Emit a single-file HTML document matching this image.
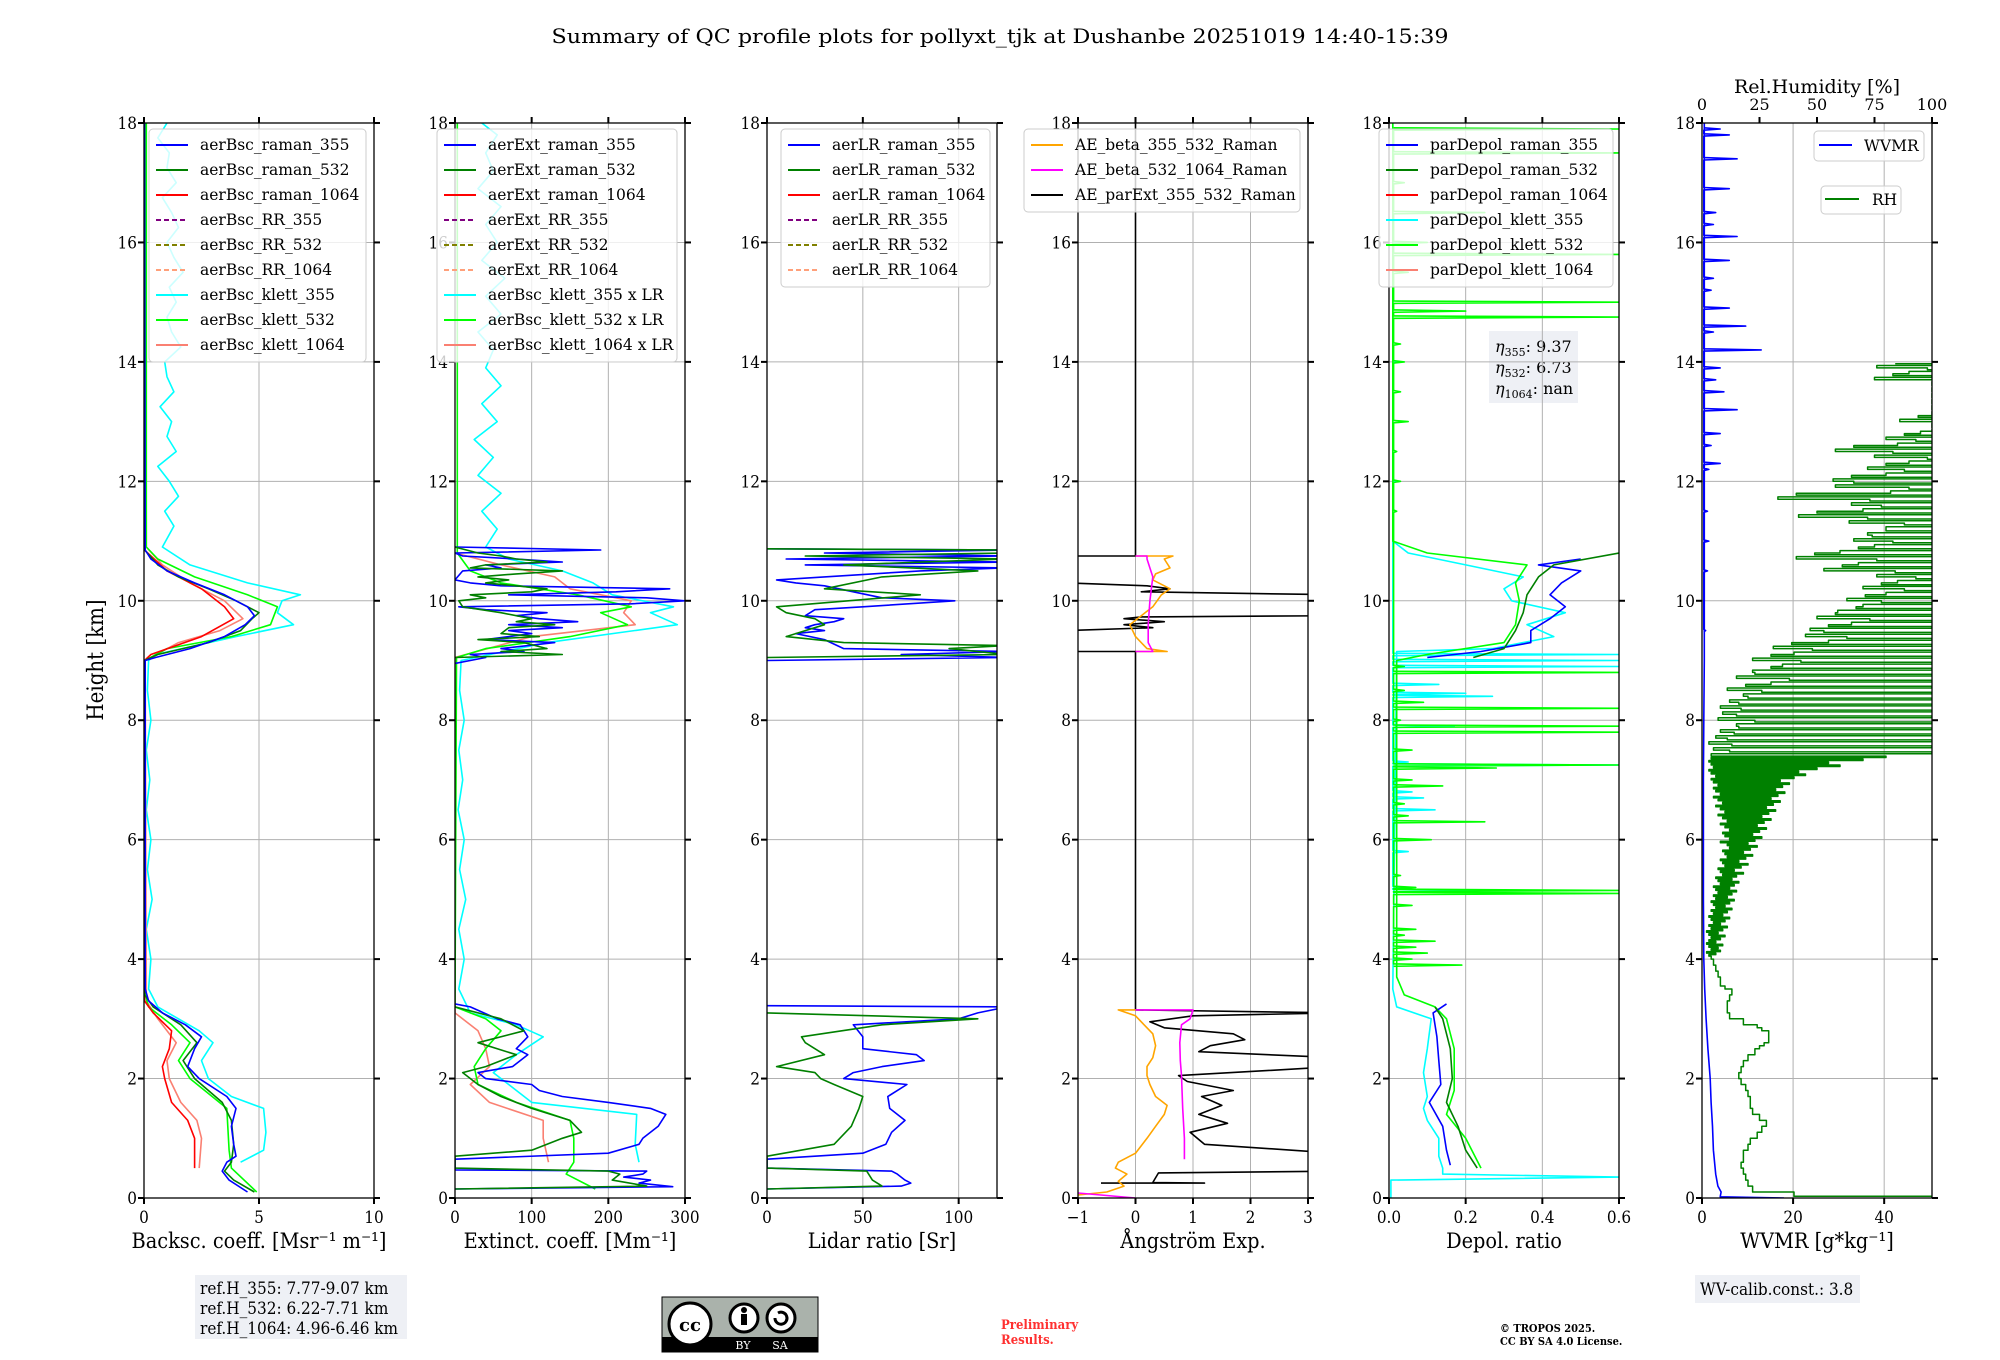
<!DOCTYPE html>
<html><head><meta charset="utf-8"><title>QC profiles</title>
<style>
html,body{margin:0;padding:0;background:#fff;}
svg{display:block;}
text{font-family:"DejaVu Serif","Liberation Serif",serif;}
.cond{font-family:"DejaVu Serif Condensed","DejaVu Serif","Liberation Serif",serif;font-stretch:condensed;}
</style></head>
<body>
<svg id="fig" width="2000" height="1360" viewBox="0 0 2000 1360" xmlns="http://www.w3.org/2000/svg">
<text x="1000" y="43" text-anchor="middle" font-size="20" textLength="897" lengthAdjust="spacingAndGlyphs">Summary of QC profile plots for pollyxt_tjk at Dushanbe 20251019 14:40-15:39</text>
<text class="cond" x="0" y="0" transform="translate(103,660) rotate(-90)" text-anchor="middle" font-size="22">Height [km]</text>

<g>
<rect x="195" y="1275" width="212" height="64" fill="#eef0f5"/>
<text class="cond" x="200" y="1294" font-size="17">ref.H_355: 7.77-9.07 km</text>
<text class="cond" x="200" y="1314" font-size="17">ref.H_532: 6.22-7.71 km</text>
<text class="cond" x="200" y="1334" font-size="17">ref.H_1064: 4.96-6.46 km</text>
</g>
<g>
<rect x="1489" y="331" width="89" height="72" fill="#eef0f5"/>
<text x="1495" y="352" font-size="16"><tspan font-style="italic">η</tspan><tspan font-size="11" dy="4">355</tspan><tspan dy="-4">: 9.37</tspan></text>
<text x="1495" y="373" font-size="16"><tspan font-style="italic">η</tspan><tspan font-size="11" dy="4">532</tspan><tspan dy="-4">: 6.73</tspan></text>
<text x="1495" y="394" font-size="16"><tspan font-style="italic">η</tspan><tspan font-size="11" dy="4">1064</tspan><tspan dy="-4">: nan</tspan></text>
</g>
<g>
<rect x="1695" y="1275" width="165" height="28" fill="#eef0f5"/>
<text class="cond" x="1700" y="1295" font-size="17">WV-calib.const.: 3.8</text>
</g>
<g>
<rect x="662" y="1297" width="156" height="55" fill="#aab2ab" stroke="#000" stroke-width="1"/>
<rect x="662" y="1337" width="156" height="15" fill="#000"/>
<circle cx="690" cy="1324" r="21" fill="#fff" stroke="#000" stroke-width="3"/>
<text x="690" y="1331" text-anchor="middle" font-size="18" font-weight="bold" font-family="Liberation Sans, sans-serif">cc</text>
<circle cx="744" cy="1318" r="14" fill="#fff" stroke="#000" stroke-width="3"/>
<circle cx="744" cy="1310" r="3" fill="#000"/>
<rect x="741" y="1314" width="6" height="11" fill="#000"/>
<circle cx="781" cy="1318" r="14" fill="#fff" stroke="#000" stroke-width="3"/>
<path d="M775 1318 a6 6 0 1 0 3 -5" fill="none" stroke="#000" stroke-width="3"/>
<text x="743" y="1349" text-anchor="middle" font-size="11" fill="#fff" font-family="Liberation Sans, sans-serif">BY</text>
<text x="780" y="1349" text-anchor="middle" font-size="11" fill="#fff" font-family="Liberation Sans, sans-serif">SA</text>
</g>
<g>
<text class="cond" x="1001" y="1329" font-size="13" font-weight="bold" fill="#ff3030">Preliminary</text>
<text class="cond" x="1001" y="1344" font-size="13" font-weight="bold" fill="#ff3030">Results.</text>
</g>
<g>
<text class="cond" x="1500" y="1332" font-size="11" font-weight="bold">© TROPOS 2025.</text>
<text class="cond" x="1500" y="1345" font-size="11" font-weight="bold">CC BY SA 4.0 License.</text>
</g>
</svg>

<script>
// ---------------- data ----------------
const yTicks=[0,2,4,6,8,10,12,14,16,18];
const p1Ticks=[0,5,10], p2Ticks=[0,100,200,300], p3Ticks=[0,50,100], p4Ticks=[-1,0,1,2,3], p5Ticks=[0,0.2,0.4,0.6], p6Ticks=[0,20,40], rhTicks=[0,25,50,75,100];
const p5TickLabels=['0.0','0.2','0.4','0.6'];

const bscRaman355=[[0.1,4.5],[0.3,3.7],[0.45,3.4],[0.6,3.6],[0.7,4.0],[0.9,3.9],[1.2,3.8],[1.5,4.0],[1.7,3.6],[2.0,2.4],[2.2,1.9],[2.5,2.2],[2.7,2.5],[2.9,1.8],[3.1,0.8],[3.3,0.2],[3.5,0.05],[9.0,0.05],[9.05,0.5],[9.2,2],[9.4,3.5],[9.6,4.4],[9.75,4.8],[9.9,4.5],[10.1,3.5],[10.3,2.2],[10.5,1.0],[10.7,0.3],[10.85,0.05],[18,0.02]];
const bscRaman532=[[0.1,4.8],[0.3,3.9],[0.45,3.5],[0.6,3.8],[0.9,3.9],[1.3,3.8],[1.6,3.4],[2.0,2.2],[2.3,1.7],[2.6,2.3],[2.9,1.6],[3.2,0.4],[3.4,0.03],[9.0,0.03],[9.1,0.6],[9.3,2.8],[9.5,4.2],[9.7,4.7],[9.8,5.0],[10.0,4.0],[10.2,2.8],[10.4,1.5],[10.6,0.6],[10.85,0.03],[18,0.02]];
const bscRaman1064=[[0.5,2.2],[0.7,2.2],[1.0,2.2],[1.3,1.9],[1.6,1.2],[2.0,0.9],[2.2,0.8],[2.5,1.1],[2.8,1.2],[3.1,0.4],[3.3,0.02],[9.0,0.02],[9.1,0.3],[9.4,2.5],[9.7,3.9],[9.9,3.5],[10.2,2.5],[10.5,1.0],[10.85,0.02]];
const bscKlett355=[[0.6,4.2],[0.8,5.2],[1.1,5.3],[1.5,5.2],[1.7,3.8],[2.0,2.8],[2.3,2.5],[2.6,3.0],[2.8,2.4],[3.2,0.6],[3.5,0.2],[4.0,0.3],[4.5,0.1],[5.0,0.35],[5.5,0.15],[6.0,0.3],[6.5,0.1],[7.0,0.25],[7.5,0.1],[8.0,0.3],[8.5,0.15],[9.0,0.2],[9.1,0.5],[9.4,4],[9.6,6.5],[9.8,5.8],[10.0,6.0],[10.1,6.8],[10.3,4.5],[10.6,2.0],[10.9,0.8],[11.25,1.3],[11.5,0.9],[11.75,1.5],[12.0,1.1],[12.25,0.6],[12.5,1.4],[12.75,1.0],[13.0,1.2],[13.25,0.7],[13.5,1.3],[13.75,1.0],[14.0,0.9],[14.25,1.6],[14.5,1.2],[14.75,1.0],[15.0,1.4],[15.25,1.1],[15.5,1.7],[15.75,1.3],[16.0,1.0],[16.25,1.5],[16.5,1.2],[16.75,0.8],[17.0,1.4],[17.25,1.0],[17.5,1.1],[17.75,0.6],[18.0,1.0]];
const bscKlett532=[[0.1,4.9],[0.5,3.8],[0.8,3.7],[1.5,3.6],[2.0,2.0],[2.3,1.5],[2.6,2.0],[2.9,1.2],[3.2,0.2],[3.4,0.05],[9.0,0.05],[9.2,1.0],[9.4,3.8],[9.6,5.5],[9.9,5.8],[10.1,4.5],[10.4,2.2],[10.7,0.6],[10.9,0.1],[18,0.1]];
const bscKlett1064=[[0.5,2.4],[1.0,2.5],[1.3,2.3],[1.6,1.6],[2.0,1.1],[2.3,1.0],[2.6,1.4],[3.0,0.6],[3.3,0.1],[9.0,0.05],[9.3,1.5],[9.5,3.3],[9.7,4.3],[10.0,3.5],[10.3,2.0],[10.6,0.8],[10.9,0.1],[18,0.05]];

const extRaman355=[[0.15,0],[0.19,284],[0.25,240],[0.3,255],[0.35,220],[0.4,245],[0.45,250],[0.47,0],[0.65,0],[0.75,200],[0.9,240],[1.0,245],[1.2,265],[1.4,275],[1.5,255],[1.6,200],[1.7,140],[1.8,110],[1.9,100],[2.0,40],[2.1,30],[2.2,75],[2.4,95],[2.5,80],[2.7,95],[2.9,85],[3.0,55],[3.2,20],[3.25,0],null,[8.95,0],[9.05,40],[9.1,20],[9.15,90],[9.2,60],[9.3,130],[9.35,40],[9.45,100],[9.5,70],[9.55,140],[9.6,70],[9.65,160],[9.7,110],[9.75,80],[9.8,120],[9.85,40],[9.9,5],[9.95,230],[10.0,300],[10.05,250],[10.1,70],[10.15,210],[10.2,280],[10.25,60],[10.3,20],[10.35,0],[10.5,10],[10.55,60],[10.6,40],[10.65,140],[10.7,80],[10.75,10],[10.8,0],[10.85,190],[10.9,0]];
const extRaman532=[[0.15,0],[0.2,250],[0.3,205],[0.4,215],[0.45,200],[0.5,0],[0.7,0],[0.8,100],[1.0,140],[1.1,165],[1.3,150],[1.5,100],[1.7,60],[1.9,30],[2.1,10],[2.2,40],[2.4,80],[2.6,30],[2.8,90],[3.0,60],[3.2,0],null,[9.05,0],[9.1,140],[9.15,60],[9.2,120],[9.3,90],[9.35,30],[9.4,110],[9.45,60],[9.55,70],[9.6,130],[9.65,80],[9.7,100],[9.8,60],[9.9,10],[10.0,5],[10.05,40],[10.1,20],[10.15,100],[10.2,120],[10.3,40],[10.35,70],[10.4,30],[10.45,80],[10.5,140],[10.55,20],[10.6,40],[10.65,120],[10.7,80],[10.75,60],[10.8,30],[10.9,0]];
const extKlett355=[[0.6,240],[0.9,235],[1.4,237],[1.6,100],[1.9,70],[2.1,50],[2.4,80],[2.7,115],[2.9,80],[3.1,20],[3.5,5],[4.0,12],[4.5,5],[5.0,14],[5.5,6],[6.0,12],[6.5,4],[7.0,10],[7.5,5],[8.0,12],[8.5,6],[9.0,8],[9.3,120],[9.6,290],[9.8,255],[9.9,285],[10.1,205],[10.3,180],[10.5,140],[10.7,70],[10.9,40],[11.2,55],[11.5,35],[11.8,60],[12.1,30],[12.4,50],[12.7,25],[13.0,55],[13.3,35],[13.6,60],[13.9,40],[14.2,50],[14.5,30],[14.8,60],[15.1,40],[15.4,65],[15.7,35],[16.0,55],[16.3,40],[16.6,60],[16.9,30],[17.2,50],[17.5,40],[17.8,55],[18,35]];
const extKlett532=[[0.15,183],[0.4,145],[0.6,155],[1.0,155],[1.3,150],[1.6,80],[1.9,30],[2.2,25],[2.5,40],[2.8,60],[3.0,40],[3.2,0],[9.05,2],[9.2,40],[9.4,150],[9.6,225],[9.8,190],[9.9,230],[10.1,160],[10.3,60],[10.5,20],[10.8,3],[18,3]];
const extKlett1064=[[0.6,122],[1.0,115],[1.3,115],[1.6,45],[1.9,20],[2.2,45],[2.5,40],[2.8,30],[3.1,0],[9.05,0],[9.4,100],[9.6,235],[9.8,220],[10.0,230],[10.2,150],[10.4,130],[10.6,60],[10.8,0]];

const lrRaman355=[[0.15,0],[0.2,70],[0.25,75],[0.3,72],[0.4,68],[0.45,65],[0.5,0],[0.65,0],[0.75,50],[0.9,62],[1.1,65],[1.3,72],[1.5,64],[1.7,63],[1.9,73],[2.0,40],[2.1,45],[2.2,60],[2.3,82],[2.4,78],[2.5,50],[2.7,50],[2.9,45],[3.0,100],[3.1,110],[3.2,125],[3.22,0],null,[9.0,0],[9.05,125],[9.1,70],[9.15,125],[9.2,40],[9.35,30],[9.45,15],[9.5,30],[9.55,20],[9.6,25],[9.65,35],[9.7,40],[9.75,20],[9.85,25],[9.9,50],[10.0,98],[10.05,60],[10.15,45],[10.25,30],[10.3,15],[10.35,5],[10.5,80],[10.55,125],[10.6,20],[10.65,125],[10.7,10],[10.75,125],[10.8,30],[10.85,125],[10.87,0]];
const lrRaman532=[[0.15,0],[0.2,60],[0.3,55],[0.45,52],[0.5,0],[0.7,0],[0.9,35],[1.2,44],[1.5,48],[1.7,50],[1.9,35],[2.0,28],[2.1,25],[2.2,5],[2.4,30],[2.6,20],[2.7,18],[2.9,60],[3.0,110],[3.1,0],null,[9.05,0],[9.1,125],[9.2,95],[9.25,125],[9.3,40],[9.4,10],[9.5,20],[9.6,30],[9.7,25],[9.8,10],[9.9,5],[10.1,80],[10.2,30],[10.4,60],[10.5,110],[10.6,40],[10.7,125],[10.75,20],[10.8,125],[10.85,125],[10.87,0]];

const aeParExt=[[0.25,-0.6],[0.25,1.2],[0.26,0.3],[0.42,0.4],[0.45,3.5],[0.75,3.5],[0.9,1.2],[1.1,0.95],[1.25,1.6],[1.4,1.1],[1.55,1.5],[1.7,1.15],[1.8,1.7],[1.95,0.9],[2.05,0.75],[2.2,3.5],[2.35,3.5],[2.45,1.1],[2.55,1.3],[2.65,1.9],[2.75,1.7],[2.85,0.5],[2.95,0.25],[3.05,1.0],[3.1,3.5],[3.15,0],[9.15,0],[9.15,-1.2],[9.5,-1.2],[9.55,0.3],[9.6,-0.2],[9.65,0.5],[9.7,-0.2],[9.73,0.1],[9.75,3.5],[10.1,3.5],[10.15,0.1],[10.2,0.6],[10.25,0.2],[10.3,-1.2],[10.75,-1.2],[10.75,0],[18,0]];
const aeBeta355532=[[0.05,-1],[0.1,-0.5],[0.2,-0.2],[0.28,-0.3],[0.4,-0.15],[0.5,-0.35],[0.6,-0.3],[0.75,0],[1.0,0.2],[1.2,0.35],[1.4,0.5],[1.55,0.55],[1.7,0.35],[1.9,0.25],[2.05,0.2],[2.2,0.2],[2.35,0.3],[2.55,0.35],[2.75,0.3],[2.9,0.15],[3.05,0],[3.15,-0.3],[3.15,0],null,[9.15,0],[9.15,0.55],[9.2,0.2],[9.4,0],[9.6,-0.1],[9.75,0.1],[9.9,0.3],[10.1,0.45],[10.2,0.6],[10.25,0.5],[10.35,0.3],[10.45,0.35],[10.55,0.6],[10.7,0.5],[10.75,0.65],[10.75,0]];
const aeBeta5321064=[[0,0],[0.1,-1.2],null,[0.65,0.85],[1.0,0.85],[1.5,0.82],[2.05,0.8],[2.3,0.78],[2.6,0.77],[2.9,0.8],[3.0,0.95],[3.15,1.0],[3.15,0],null,[9.15,0],[9.15,0.3],[9.3,0.22],[9.6,0.22],[10.0,0.25],[10.4,0.3],[10.7,0.2],[10.75,0.2],[10.75,0]];

const depRaman355=[[0.55,0.16],[0.8,0.15],[1.2,0.14],[1.6,0.105],[1.9,0.135],[2.3,0.13],[2.7,0.125],[3.1,0.115],[3.25,0.15],null,[9.05,0.1],[9.15,0.24],[9.3,0.37],[9.5,0.37],[9.7,0.42],[9.9,0.46],[10.1,0.42],[10.3,0.45],[10.5,0.5],[10.6,0.39],[10.7,0.5]];
const depRaman532=[[0.5,0.23],[0.8,0.2],[1.2,0.18],[1.6,0.15],[2.0,0.165],[2.5,0.16],[3.0,0.14],[3.2,0.12],null,[9.05,0.22],[9.2,0.3],[9.5,0.33],[9.8,0.35],[10.1,0.36],[10.4,0.39],[10.6,0.43],[10.8,0.6]];
const depKlett355=[[0.0,0.005],[0.3,0.005],[0.35,0.6],[0.4,0.14],[0.5,0.14],[0.7,0.13],[1.0,0.13],[1.3,0.1],[1.5,0.09],[1.7,0.1],[2.1,0.09],[2.5,0.1],[3.0,0.11],[3.2,0.02],[3.5,0.01],[9.15,0.02],[9.2,0.27],[9.4,0.43],[9.6,0.36],[9.8,0.46],[10.0,0.32],[10.2,0.3],[10.4,0.35],[10.6,0.2],[10.8,0.05],[11.0,0.01],[18,0.01]];
const depKlett532=[[0.5,0.24],[1.0,0.2],[1.4,0.15],[1.8,0.17],[2.5,0.17],[3.0,0.15],[3.2,0.12],[3.4,0.04],[3.7,0.02],[9.0,0.02],[9.1,0.1],[9.3,0.3],[9.6,0.33],[10.0,0.34],[10.3,0.33],[10.6,0.36],[10.8,0.1],[11.0,0.01],[18,0.01]];
const depKlett355Spikes=[[5.15,0.3],[5.2,0.05],[5.8,0.05],[6.5,0.12],[6.7,0.09],[6.8,0.06],[7.25,0.6],[7.3,0.05],[7.9,0.17],[8.4,0.27],[8.45,0.2],[8.6,0.13],[8.9,0.6],[9.0,0.6],[9.1,0.6],[12,0.02],[14,0.03],[16,0.02]];
const depKlett532Spikes=[[3.9,0.19],[4.0,0.06],[4.1,0.1],[4.2,0.07],[4.3,0.12],[4.4,0.04],[4.5,0.07],[4.9,0.06],[5.1,0.6],[5.15,0.6],[5.2,0.07],[5.4,0.03],[6.0,0.11],[6.3,0.25],[6.4,0.05],[6.6,0.04],[6.9,0.14],[7.0,0.06],[7.2,0.28],[7.25,0.6],[7.5,0.06],[7.8,0.6],[7.9,0.6],[8.0,0.03],[8.2,0.6],[8.3,0.09],[8.5,0.04],[8.8,0.6],[8.9,0.04],[11.5,0.02],[12.0,0.03],[12.5,0.02],[13.0,0.05],[13.5,0.03],[14.0,0.04],[14.3,0.03],[14.75,0.6],[14.85,0.2],[15.0,0.6],[15.5,0.05],[15.8,0.6],[16.0,0.1],[16.5,0.25],[17.0,0.04],[17.5,0.6],[17.9,0.6]];

const wvmrProfile=[[0,18],[0.02,4],[0.1,4.2],[0.2,3.5],[0.4,3],[0.8,2.5],[1.2,2.3],[1.6,2],[2.0,1.8],[2.5,1.3],[3.0,0.9],[3.5,0.6],[4.0,0.4],[5,0.3],[6,0.3],[7,0.3],[8,0.4],[9,0.5],[18,0.5]];
const wvmrSpikes=[[9.5,0.8],[10.5,1.2],[11,1.5],[11.5,1.2],[12.2,1.5],[12.3,4],[12.6,2],[12.8,4],[13.2,7.7],[13.5,4.8],[13.7,3],[13.9,4],[14.2,13],[14.5,2.5],[14.6,9.6],[14.9,6],[15.2,2],[15.4,2.5],[15.7,6],[16.1,7.7],[16.3,2.5],[16.5,3],[16.9,6],[17.4,7.7],[17.8,6],[17.9,4]];
const rhLower=[[0,100],[0.03,40],[0.1,22],[0.2,20],[0.3,19],[0.4,18],[0.5,17],[0.6,18],[0.7,18],[0.8,20],[0.9,21],[1.0,24],[1.1,26],[1.2,28],[1.25,28],[1.3,25],[1.4,22],[1.5,21],[1.6,21],[1.7,20],[1.8,19],[1.9,17],[2.0,16],[2.1,17],[2.2,18],[2.3,20],[2.4,23],[2.5,25],[2.55,27],[2.6,29],[2.7,29],[2.8,26],[2.85,24],[2.9,18],[3.0,12],[3.1,11],[3.2,11],[3.3,12],[3.4,13],[3.5,10],[3.55,8],[3.6,8],[3.7,7],[3.8,6],[3.9,5],[4.0,4]];
const rhBandH=[4.05,4.1,4.15,4.2,4.25,4.3,4.35,4.4,4.45,4.5,4.55,4.6,4.65,4.7,4.75,4.8,4.85,4.9,4.95,5.0,5.05,5.1,5.15,5.2,5.25,5.3,5.35,5.4,5.45,5.5,5.55,5.6,5.65,5.7,5.75,5.8,5.85,5.9,5.95,6.0,6.05,6.1,6.15,6.2,6.25,6.3,6.35,6.4,6.45,6.5,6.55,6.6,6.65,6.7,6.75,6.8,6.85,6.9,6.95,7.0,7.05,7.1,7.15,7.2,7.25,7.3,7.35];
const rhBandLow=[3,2,4,3,2,3,4,3,2,4,3,5,4,3,5,4,6,5,4,6,5,7,6,5,8,7,6,9,8,7,10,9,8,11,10,9,12,11,8,12,10,9,12,10,8,11,9,7,10,8,6,9,7,5,8,6,5,7,5,4,6,4,3,5,4,3,4];
const rhBandHigh=[6,8,7,9,6,8,10,7,9,11,8,10,12,9,11,13,10,12,14,11,13,15,12,14,16,13,15,18,14,17,20,16,19,22,18,21,24,20,23,26,22,25,28,24,27,30,26,29,32,28,31,34,30,33,36,32,35,38,34,40,45,42,50,60,55,70,80];
const rhCloudH=[7.4,7.5,7.6,7.7,7.8,7.9,8.0,8.1,8.2,8.3,8.4,8.5,8.6,8.7,8.8,8.9,9.0,9.1,9.2,9.3,9.4,9.5,9.6,9.7,9.8,9.9,10.0,10.1,10.2,10.3,10.4,10.5,10.6,10.7,10.8,10.9,11.0,11.1,11.2,11.3,11.4,11.5,11.6,11.7,11.8,11.9,12.0,12.1,12.2,12.3,12.4,12.5,12.6,12.7,12.8,12.9,13.0,13.1,13.2,13.3,13.4,13.5,13.6,13.7,13.8,13.9];
const rhCloudLow=[4,5,3,6,8,15,7,9,8,12,18,11,30,15,22,35,22,40,31,55,45,47,65,50,59,70,63,80,70,85,76,53,68,41,60,75,66,72,80,64,42,70,65,33,82,58,57,80,72,90,75,58,85,80,95,100,86,100,100,100,100,100,100,75,90,76];
const rhCloudHigh=100;

// ---------------- layout ----------------
const NS='http://www.w3.org/2000/svg';
const svg=document.getElementById('fig');
const TOP=123,BOT=1198,W=230,YMAX=18;
const panels=[
 {x0:144,min:0,max:10,ticks:p1Ticks,label:'Backsc. coeff. [Msr⁻¹ m⁻¹]',name:'backscatter'},
 {x0:455,min:0,max:300,ticks:p2Ticks,label:'Extinct. coeff. [Mm⁻¹]',name:'extinction'},
 {x0:767,min:0,max:120,ticks:p3Ticks,label:'Lidar ratio [Sr]',name:'lidar-ratio'},
 {x0:1078,min:-1,max:3,ticks:p4Ticks,label:'Ångström Exp.',name:'angstrom'},
 {x0:1389,min:0,max:0.6,ticks:p5Ticks,labels:p5TickLabels,label:'Depol. ratio',name:'depol'},
 {x0:1702,min:0,max:50.5,ticks:p6Ticks,label:'WVMR [g*kg⁻¹]',name:'wvmr'}
];
function yS(h){return BOT-(h/YMAX)*(BOT-TOP);}
function xS(p,v){return p.x0+(v-p.min)/(p.max-p.min)*W;}

function mk(tag,attrs,parent,name,inter){
  const el=document.createElementNS(NS,tag);
  for(const k in attrs)el.setAttribute(k,attrs[k]);
  
  
  (parent||svg).appendChild(el);
  return el;
}
const defs=mk('defs',{},svg,'defs',false);

function drawSeries(p,g,data,color,name,opts){
  opts=opts||{};
  let segs=[],cur=[],prev=null;
  data.forEach(d=>{
    if(d===null){if(cur.length)segs.push(cur);cur=[];prev=null;return;}
    if(opts.step&&prev) cur.push(xS(p,prev[1]).toFixed(1)+','+yS(d[0]).toFixed(1));
    cur.push(xS(p,d[1]).toFixed(1)+','+yS(d[0]).toFixed(1));
    prev=d;
  });
  if(cur.length)segs.push(cur);
  segs.forEach(s=>{
    const a={points:s.join(' '),fill:'none',stroke:color,'stroke-width':opts.w||1.6,'stroke-linejoin':'round'};
    if(opts.dash)a['stroke-dasharray']=opts.dash;
    mk('polyline',a,g,name,false);
  });
}
function spikeSeries(base,spikes){
  const out=[];
  spikes.forEach(s=>{out.push([s[0]-0.02,base]);out.push([s[0],s[1]]);out.push([s[0]+0.02,base]);});
  return out;
}

panels.forEach((p,i)=>{
  const g=mk('g',{},svg,'panel-'+p.name,false);
  const clip=mk('clipPath',{id:'clip'+i},defs,'clip-'+p.name,false);
  mk('rect',{x:p.x0,y:TOP,width:W,height:BOT-TOP},clip,'clip-rect',false);
  p.ticks.forEach(t=>mk('line',{x1:xS(p,t),x2:xS(p,t),y1:TOP,y2:BOT,stroke:'#b0b0b0','stroke-width':1},g,'x-gridline',false));
  yTicks.forEach(t=>mk('line',{x1:p.x0,x2:p.x0+W,y1:yS(t),y2:yS(t),stroke:'#b0b0b0','stroke-width':1},g,'y-gridline',false));
  const dg=mk('g',{'clip-path':'url(#clip'+i+')'},g,p.name+'-series',false);
  p.dg=dg;p.g=g;
});

const P=panels;
drawSeries(P[0],P[0].dg,bscKlett355,'#00ffff','bsc-klett-355');
drawSeries(P[0],P[0].dg,bscKlett1064,'#fa8072','bsc-klett-1064');
drawSeries(P[0],P[0].dg,bscKlett532,'#00ff00','bsc-klett-532');
drawSeries(P[0],P[0].dg,bscRaman1064,'#ff0000','bsc-raman-1064');
drawSeries(P[0],P[0].dg,bscRaman532,'#008000','bsc-raman-532');
drawSeries(P[0],P[0].dg,bscRaman355,'#0000ff','bsc-raman-355');

drawSeries(P[1],P[1].dg,extKlett355,'#00ffff','ext-klett-355');
drawSeries(P[1],P[1].dg,extKlett1064,'#fa8072','ext-klett-1064');
drawSeries(P[1],P[1].dg,extKlett532,'#00ff00','ext-klett-532');
drawSeries(P[1],P[1].dg,extRaman355,'#0000ff','ext-raman-355');
drawSeries(P[1],P[1].dg,extRaman532,'#008000','ext-raman-532');

drawSeries(P[2],P[2].dg,lrRaman355,'#0000ff','lr-raman-355');
drawSeries(P[2],P[2].dg,lrRaman532,'#008000','lr-raman-532');

drawSeries(P[3],P[3].dg,aeParExt,'#000000','ae-parext-355-532');
drawSeries(P[3],P[3].dg,aeBeta355532,'#ffa500','ae-beta-355-532');
drawSeries(P[3],P[3].dg,aeBeta5321064,'#ff00ff','ae-beta-532-1064');

drawSeries(P[4],P[4].dg,spikeSeries(0.01,depKlett355Spikes),'#00ffff','depol-klett-355-spikes');
drawSeries(P[4],P[4].dg,depKlett355,'#00ffff','depol-klett-355');
drawSeries(P[4],P[4].dg,spikeSeries(0.012,depKlett532Spikes),'#00ff00','depol-klett-532-spikes');
drawSeries(P[4],P[4].dg,depKlett532,'#00ff00','depol-klett-532');
drawSeries(P[4],P[4].dg,depRaman355,'#0000ff','depol-raman-355');
drawSeries(P[4],P[4].dg,depRaman532,'#008000','depol-raman-532');

const rhP={x0:1702,min:0,max:100};
const rhAll=rhLower.slice();
rhBandH.forEach((h,k)=>{rhAll.push([h,rhBandLow[k]]);rhAll.push([h+0.025,rhBandHigh[k]]);});
rhCloudH.forEach((h,k)=>{rhAll.push([h,rhCloudLow[k]]);rhAll.push([h+0.04,rhCloudHigh]);rhAll.push([h+0.07,rhCloudLow[k]+8]);});
drawSeries(P[5],P[5].dg,wvmrProfile,'#0000ff','wvmr-profile');
drawSeries(P[5],P[5].dg,spikeSeries(0.4,wvmrSpikes),'#0000ff','wvmr-spikes');
drawSeries(rhP,P[5].dg,rhAll,'#008000','rh-profile',{step:true,w:1.5});

panels.forEach((p,i)=>{
  const g=p.g;
  mk('rect',{x:p.x0,y:TOP,width:W,height:BOT-TOP,fill:'none',stroke:'#000','stroke-width':1.3},g,p.name+'-frame',false);
  yTicks.forEach(t=>{
    const y=yS(t);
    mk('line',{x1:p.x0-6,x2:p.x0,y1:y,y2:y,stroke:'#000','stroke-width':2},g,'y-tick',false);
    mk('line',{x1:p.x0+W,x2:p.x0+W+6,y1:y,y2:y,stroke:'#000','stroke-width':2},g,'y-tick-right',false);
    const tl=mk('text',{x:p.x0-7,y:y+6,'text-anchor':'end','font-size':17,class:'cond'},g,'y-tick-label',false);
    tl.textContent=String(t);
  });
  p.ticks.forEach((t,k)=>{
    const x=xS(p,t);
    mk('line',{x1:x,x2:x,y1:BOT,y2:BOT+6,stroke:'#000','stroke-width':2},g,'x-tick',false);
    if(i<5) mk('line',{x1:x,x2:x,y1:TOP-6,y2:TOP,stroke:'#000','stroke-width':2},g,'x-tick-top',false);
    const tl=mk('text',{x:x,y:BOT+25,'text-anchor':'middle','font-size':17,class:'cond'},g,'x-tick-label',false);
    tl.textContent=p.labels?p.labels[k]:(t<0?'−'+(-t):String(t));
  });
  const xl=mk('text',{x:p.x0+W/2,y:1248,'text-anchor':'middle','font-size':21.5,class:'cond'},g,p.name+'-x-axis-title',false);
  xl.textContent=p.label;
});
{
  const g=P[5].g;
  rhTicks.forEach(t=>{
    const x=1702+t/100*W;
    mk('line',{x1:x,x2:x,y1:TOP-6,y2:TOP,stroke:'#000','stroke-width':2},g,'rh-tick',false);
    const tl=mk('text',{x:x,y:110,'text-anchor':'middle','font-size':16},g,'rh-tick-label',false);
    tl.textContent=String(t);
  });
  const t=mk('text',{x:1817,y:93,'text-anchor':'middle','font-size':19},g,'rh-axis-title',false);
  t.textContent='Rel.Humidity [%]';
}

function legend(p,bx,by,bw,rows,name){
  const g=mk('g',{},svg,name,true);
  mk('rect',{x:bx,y:by,width:bw,height:rows.length*25+8,rx:4,fill:'#fff','fill-opacity':0.8,stroke:'#ccc','stroke-width':1},g,name+'-box',false);
  rows.forEach((r,k)=>{
    const y=by+16+k*25;
    const a={x1:bx+7,x2:bx+39,y1:y,y2:y,stroke:r[1],'stroke-width':2};
    if(r[2])a['stroke-dasharray']='5,3';
    mk('line',a,g,'legend-swatch',false);
    const t=mk('text',{x:bx+51,y:y+5,'font-size':15.5},g,'legend-entry',true);
    t.textContent=r[0];
  });
}
legend(P[0],149,129,217,[['aerBsc_raman_355','#0000ff'],['aerBsc_raman_532','#008000'],['aerBsc_raman_1064','#ff0000'],['aerBsc_RR_355','#800080',1],['aerBsc_RR_532','#808000',1],['aerBsc_RR_1064','#ffa07a',1],['aerBsc_klett_355','#00ffff'],['aerBsc_klett_532','#00ff00'],['aerBsc_klett_1064','#fa8072']],'bsc-legend');
legend(P[1],437,129,240,[['aerExt_raman_355','#0000ff'],['aerExt_raman_532','#008000'],['aerExt_raman_1064','#ff0000'],['aerExt_RR_355','#800080',1],['aerExt_RR_532','#808000',1],['aerExt_RR_1064','#ffa07a',1],['aerBsc_klett_355 x LR','#00ffff'],['aerBsc_klett_532 x LR','#00ff00'],['aerBsc_klett_1064 x LR','#fa8072']],'ext-legend');
legend(P[2],781,129,209,[['aerLR_raman_355','#0000ff'],['aerLR_raman_532','#008000'],['aerLR_raman_1064','#ff0000'],['aerLR_RR_355','#800080',1],['aerLR_RR_532','#808000',1],['aerLR_RR_1064','#ffa07a',1]],'lr-legend');
legend(P[3],1024,129,276,[['AE_beta_355_532_Raman','#ffa500'],['AE_beta_532_1064_Raman','#ff00ff'],['AE_parExt_355_532_Raman','#000000']],'ae-legend');
legend(P[4],1379,129,234,[['parDepol_raman_355','#0000ff'],['parDepol_raman_532','#008000'],['parDepol_raman_1064','#ff0000'],['parDepol_klett_355','#00ffff'],['parDepol_klett_532','#00ff00'],['parDepol_klett_1064','#fa8072']],'depol-legend');
{
  const g=mk('g',{},svg,'wvmr-legend',true);
  mk('rect',{x:1814,y:131,width:110,height:30,rx:4,fill:'#fff','fill-opacity':0.8,stroke:'#ccc'},g,'wvmr-legend-box',false);
  mk('line',{x1:1819,x2:1852,y1:145,y2:145,stroke:'#0000ff','stroke-width':2},g,'legend-swatch',false);
  const t=mk('text',{x:1864,y:151,'font-size':15.5},g,'legend-entry',true);
  t.textContent='WVMR';
  const g2=mk('g',{},svg,'rh-legend',true);
  mk('rect',{x:1821,y:186,width:80,height:28,rx:4,fill:'#fff','fill-opacity':0.8,stroke:'#ccc'},g2,'rh-legend-box',false);
  mk('line',{x1:1825,x2:1859,y1:199,y2:199,stroke:'#008000','stroke-width':2},g2,'legend-swatch',false);
  const t2=mk('text',{x:1872,y:205,'font-size':15.5},g2,'legend-entry',true);
  t2.textContent='RH';
}
</script>
</body></html>
